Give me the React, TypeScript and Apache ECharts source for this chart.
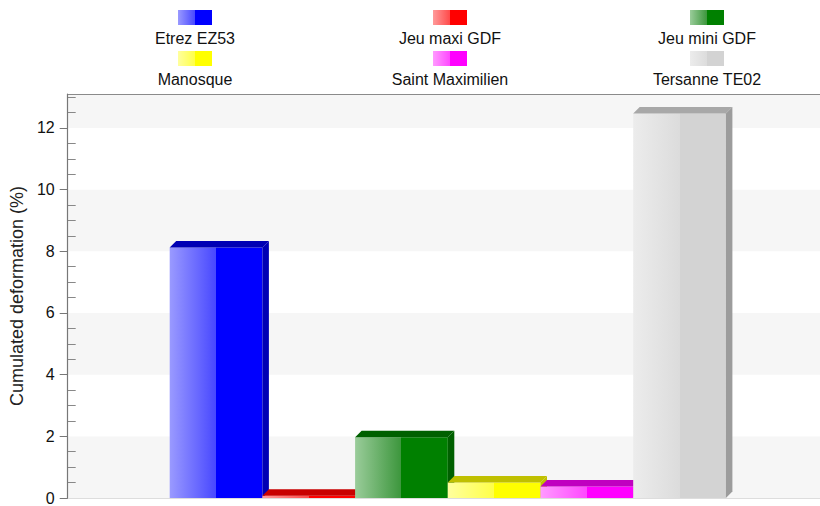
import React, { useEffect, useRef } from "react";
import * as echarts from "echarts";

const NAMES = ["Etrez EZ53", "Jeu maxi GDF", "Jeu mini GDF", "Manosque", "Saint Maximilien", "Tersanne TE02"];
const VALUES = [8.12, 0.07, 1.97, 0.5, 0.37, 12.47];
const LIGHT = ["#9a9aff", "#ff9a9a", "#9acc9a", "#ffff9e", "#ff9aff", "#ececec"];
const MID = ["#4848ff", "#ff4a4a", "#3c963c", "#ffff48", "#ff48ff", "#dcdcdc"];
const BASE = ["#0000ff", "#ff0000", "#008000", "#ffff00", "#ff00ff", "#d3d3d3"];
const TOP = ["#0000b4", "#c80000", "#006000", "#c0c000", "#c000c0", "#a8a8a8"];
const SIDE = ["#0000b4", "#c80000", "#006000", "#c0c000", "#c000c0", "#9c9c9c"];
const Y_MAX = 13.1;
const MAJOR_TICKS = [0, 2, 4, 6, 8, 10, 12];
const MINOR_TICKS = [0.5, 1, 1.5, 2.5, 3, 3.5, 4.5, 5, 5.5, 6.5, 7, 7.5, 8.5, 9, 9.5, 10.5, 11, 11.5, 12.5, 13];

const LEG_X = [195, 450, 707, 195, 450, 707];
const LEG_Y = [10, 10, 10, 51, 51, 51];

const BAR_W = 92.7;
const BAR_START = 102;
const DEPTH = 6.5;
const FONT = "'Liberation Sans', Arial, Helvetica, sans-serif";

function grad(i: number) {
  return new echarts.graphic.LinearGradient(0, 0, 1, 0, [
    { offset: 0, color: LIGHT[i] },
    { offset: 0.5, color: MID[i] },
    { offset: 0.5, color: BASE[i] },
    { offset: 1, color: BASE[i] },
  ]);
}

export default function App() {
  const ref = useRef<HTMLDivElement>(null);
  useEffect(() => {
    if (!ref.current) return;
    const chart = echarts.init(ref.current, undefined, { renderer: "svg" });
    const series = NAMES.map((name, idx) => ({
      type: "custom",
      name,
      xAxisIndex: 0,
      yAxisIndex: 0,
      clip: false,
      itemStyle: { color: grad(idx) },
      encode: { x: 0, y: 1 },
      data: [[0, VALUES[idx]]],
      renderItem: (params: any, api: any) => {
        const v = api.value(1);
        const base = api.coord([0, 0]);
        const top = api.coord([0, v]);
        const x0 = params.coordSys.x + BAR_START + idx * BAR_W;
        const x1 = x0 + BAR_W;
        const yB = base[1];
        const yT = top[1];
        const d = DEPTH;
        return {
          type: "group",
          children: [
            {
              type: "rect",
              shape: { x: x0, y: yT, width: BAR_W, height: yB - yT },
              style: { fill: grad(idx) },
            },
            {
              type: "polygon",
              shape: { points: [[x0, yT], [x0 + d, yT - d], [x1 + d, yT - d], [x1, yT]] },
              style: { fill: TOP[idx] },
            },
            {
              type: "polygon",
              shape: { points: [[x1, yT], [x1 + d, yT - d], [x1 + d, yB - d], [x1, yB]] },
              style: { fill: SIDE[idx] },
            },
          ],
        };
      },
    }));

    const legends = NAMES.map((name, i) => ({
      data: [name],
      left: LEG_X[i] - 17,
      top: LEG_Y[i],
      icon: "rect",
      itemWidth: 34,
      itemHeight: 15,
      padding: 0,
      itemGap: 0,
      selectedMode: false,
      formatter: () => "",
      textStyle: { fontSize: 1 },
    }));

    const labels = NAMES.map((name, i) => ({
      type: "text",
      x: LEG_X[i],
      y: LEG_Y[i] + 28,
      style: {
        text: name,
        fill: "#111",
        font: `16px ${FONT}`,
        fontSize: 16,
        fontFamily: FONT,
        align: "center",
        textAlign: "center",
        verticalAlign: "middle",
        textVerticalAlign: "middle",
      },
    }));

    chart.setOption({
      animation: false,
      backgroundColor: "#ffffff",
      legend: legends,
      graphic: labels,
      grid: { left: 66, right: 0, top: 94, bottom: 6, containLabel: false },
      xAxis: [
        {
          type: "category",
          data: [""],
          position: "bottom",
          axisLine: { show: true, onZero: false, lineStyle: { color: "#dddddd", width: 1 } },
          axisTick: { show: false },
          axisLabel: { show: false },
          splitLine: { show: false },
        },
        {
          type: "category",
          data: [""],
          position: "top",
          axisLine: { show: true, onZero: false, lineStyle: { color: "#8a8a8a", width: 1 } },
          axisTick: { show: false },
          axisLabel: { show: false },
          splitLine: { show: false },
        },
      ],
      yAxis: [
        {
          type: "value",
          min: 0,
          max: Y_MAX,
          interval: 2,
          name: "Cumulated deformation (%)",
          nameLocation: "middle",
          nameGap: 39,
          nameTextStyle: { fontSize: 18, color: "#222", fontFamily: FONT },
          axisLine: { show: true, lineStyle: { color: "#777", width: 1.2 } },
          axisTick: { show: true, length: 8, customValues: MAJOR_TICKS, lineStyle: { color: "#777" } },
          axisLabel: {
            margin: 13,
            fontSize: 16,
            color: "#111",
            fontFamily: FONT,
            customValues: MAJOR_TICKS,
            formatter: (v: number) => (Math.abs(v % 2) < 1e-9 ? String(v) : ""),
          },
          splitLine: { show: false },
          splitArea: { show: false },
          z: 3,
        },
        {
          type: "value",
          min: 0,
          max: Y_MAX,
          interval: 2,
          position: "left",
          axisLine: { show: false },
          axisTick: { show: true, inside: true, length: 8, customValues: MINOR_TICKS, lineStyle: { color: "#888" } },
          axisLabel: { show: false },
          splitLine: { show: false },
          splitArea: { show: false },
        },
        {
          type: "value",
          min: 0,
          max: Y_MAX,
          interval: 2,
          position: "left",
          axisLine: { show: false },
          axisTick: { show: false },
          axisLabel: { show: false },
          splitLine: { show: false },
          splitArea: { show: true, areaStyle: { color: ["#f6f6f6", "#ffffff"] } },
        },
      ],
      series,
    });
    return () => chart.dispose();
  }, []);
  return (
    <div
      ref={ref}
      style={{ position: "fixed", left: 0, top: 0, width: 820, height: 506, background: "#fff" }}
    />
  );
}
